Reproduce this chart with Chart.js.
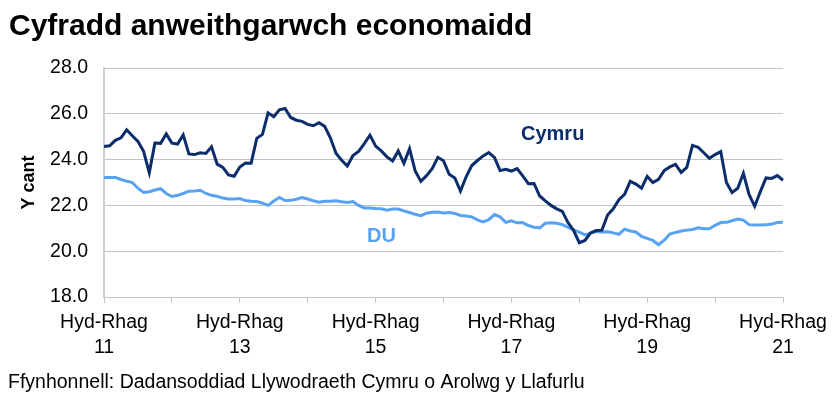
<!DOCTYPE html>
<html>
<head>
<meta charset="utf-8">
<script src="https://cdn.jsdelivr.net/npm/chart.js@4.4.1/dist/chart.umd.min.js"></script>
<style>
html,body{margin:0;padding:0;background:#fff;}
canvas{display:block;}
</style>
</head>
<body>
<canvas id="c" width="835" height="398"></canvas>
<script>
// ---- Data ----
const periods = ['Hyd-Rhag','Tach-Ion','Rhag-Chwe','Ion-Maw','Chwe-Ebr','Maw-Mai','Ebr-Meh','Mai-Gor','Meh-Aws','Gor-Med','Aws-Hyd','Med-Tach'];
const startYear = 11;
const xTickLabels = [['Hyd-Rhag','11'],['Hyd-Rhag','13'],['Hyd-Rhag','15'],['Hyd-Rhag','17'],['Hyd-Rhag','19'],['Hyd-Rhag','21']];
const yTicks = [18,20,22,24,26,28];

const cymru = [
24.57,24.60,24.84,24.95,25.30,25.04,24.79,24.36,23.43,24.72,24.71,25.12,
24.72,24.68,25.08,24.25,24.22,24.30,24.27,24.56,23.80,23.66,23.33,23.27,
23.68,23.85,23.84,24.93,25.10,26.04,25.87,26.17,26.23,25.84,25.72,25.67,
25.54,25.48,25.61,25.45,24.95,24.28,23.97,23.72,24.18,24.36,24.70,25.07,
24.59,24.38,24.12,23.94,24.38,23.84,24.48,23.50,23.05,23.30,23.60,24.10,
23.95,23.36,23.20,22.63,23.25,23.74,23.96,24.16,24.31,24.10,23.52,23.58,
23.50,23.61,23.29,22.95,22.96,22.41,22.20,22.00,21.85,21.74,21.25,20.90,
20.37,20.47,20.80,20.90,20.92,21.58,21.85,22.25,22.48,23.05,22.93,22.75,
23.27,23.00,23.14,23.52,23.68,23.79,23.44,23.66,24.62,24.54,24.30,24.06,
24.22,24.35,23.00,22.56,22.75,23.40,22.48,21.96,22.60,23.20,23.18,23.30,
23.10];

const du = [
23.22,23.22,23.22,23.13,23.06,23.00,22.75,22.57,22.60,22.67,22.73,22.52,
22.39,22.44,22.52,22.62,22.63,22.66,22.52,22.44,22.40,22.32,22.28,22.28,
22.30,22.21,22.18,22.17,22.10,22.00,22.19,22.35,22.21,22.22,22.27,22.34,
22.28,22.20,22.14,22.18,22.18,22.20,22.16,22.13,22.17,22.00,21.89,21.89,
21.86,21.85,21.79,21.84,21.84,21.76,21.69,21.61,21.55,21.66,21.70,21.71,
21.67,21.69,21.65,21.56,21.54,21.50,21.37,21.28,21.38,21.60,21.50,21.26,
21.33,21.24,21.25,21.12,21.05,21.02,21.22,21.24,21.22,21.16,21.05,20.93,
20.83,20.71,20.79,20.86,20.84,20.85,20.80,20.74,20.96,20.88,20.84,20.65,
20.56,20.47,20.28,20.48,20.75,20.82,20.88,20.92,20.95,21.02,20.98,20.98,
21.13,21.25,21.26,21.33,21.40,21.36,21.16,21.14,21.14,21.15,21.19,21.25,
21.26];

// category labels built from the period list
const categories = cymru.map((_, i) => periods[i % 12] + ' ' + (startYear + Math.floor(i / 12) + (i % 12 >= 3 ? 1 : 0)));

const FONT = "'Liberation Sans', Arial, sans-serif";
const CYMRU_COLOR = '#0b2d6b';
const DU_COLOR = '#58a2f4';
const GRID = '#c4c4c4';

const textPlugin = {
  id: 'texts',
  afterDraw(chart) {
    const ctx = chart.ctx;
    const xs = chart.scales.x, ys = chart.scales.y;
    ctx.save();
    ctx.textBaseline = 'alphabetic';
    ctx.textAlign = 'left';
    ctx.fillStyle = '#000';
    ctx.font = 'bold 30px ' + FONT;
    ctx.fillText('Cyfradd anweithgarwch economaidd', 9, 35);
    ctx.font = '19.5px ' + FONT;
    ctx.fillText('Ffynhonnell: Dadansoddiad Llywodraeth Cymru o Arolwg y Llafurlu', 8, 388);
    ctx.font = 'bold 20px ' + FONT;
    ctx.fillStyle = CYMRU_COLOR;
    ctx.fillText('Cymru', xs.getPixelForValue(73.7), ys.getPixelForValue(24.85));
    ctx.fillStyle = DU_COLOR;
    ctx.fillText('DU', xs.getPixelForValue(46.5), ys.getPixelForValue(20.4));
    ctx.restore();
  }
};

new Chart(document.getElementById('c'), {
  type: 'line',
  data: {
    labels: categories,
    datasets: [
      { label: 'Cymru', data: cymru, borderColor: CYMRU_COLOR, borderWidth: 3, pointRadius: 0, tension: 0, fill: false },
      { label: 'DU', data: du, borderColor: DU_COLOR, borderWidth: 3, pointRadius: 0, tension: 0, fill: false }
    ]
  },
  options: {
    responsive: false,
    animation: false,
    devicePixelRatio: 1,
    layout: { padding: { left: 18, right: 52, top: 68, bottom: 0 } },
    plugins: { legend: { display: false }, tooltip: { enabled: false }, title: { display: false } },
    scales: {
      x: {
        type: 'category',
        offset: false,
        afterFit(s) { s.height = 101; },
        grid: {
          drawOnChartArea: false,
          drawTicks: true,
          tickLength: 6,
          color: (c) => (c.index % 12 === 0 ? GRID : 'rgba(0,0,0,0)'),
          lineWidth: 1
        },
        border: { display: true, color: GRID, width: 1 },
        ticks: {
          autoSkip: false,
          maxRotation: 0,
          minRotation: 0,
          padding: 7,
          color: '#000',
          font: { family: FONT, size: 19.5, lineHeight: 1.28 },
          callback: (v, i) => (i % 24 === 0 ? xTickLabels[i / 24] : '')
        }
      },
      y: {
        min: 18,
        max: 28,
        afterFit(s) { s.width = 86; },
        afterBuildTicks(s) { s.ticks = yTicks.map(v => ({ value: v })); },
        grid: { color: GRID, lineWidth: 1, drawTicks: false },
        border: { display: true, color: '#cfcfcf', width: 2 },
        ticks: {
          padding: 16,
          color: '#000',
          font: { family: FONT, size: 19.5 },
          callback: (v) => Number(v).toFixed(1)
        },
        title: {
          display: true,
          text: 'Y cant',
          color: '#000',
          padding: 0,
          font: { family: FONT, size: 18, weight: 'bold' }
        }
      }
    }
  },
  plugins: [textPlugin]
});
</script>
</body>
</html>
